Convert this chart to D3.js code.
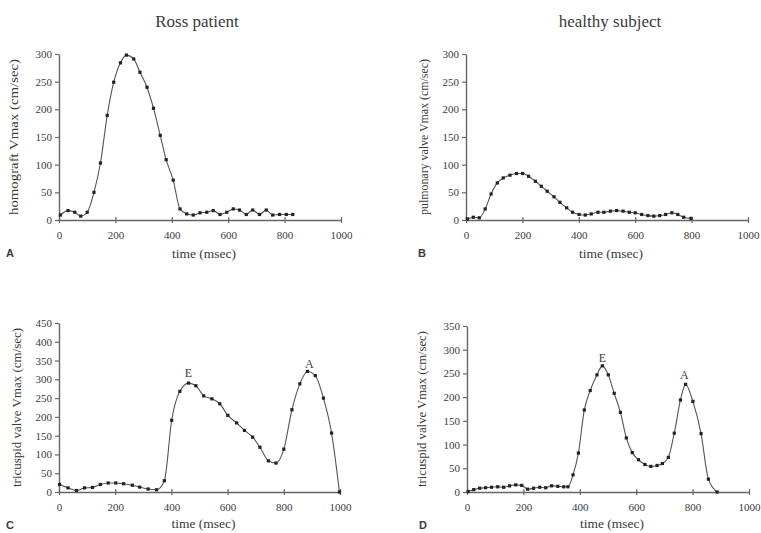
<!DOCTYPE html>
<html>
<head>
<meta charset="utf-8">
<script src="https://cdn.jsdelivr.net/npm/d3@7"></script>
<style>
  body { margin: 0; background: #fff; }
  svg { display: block; }
  text { font-family: "Liberation Serif", "DejaVu Serif", serif; fill: #3a3a3a; }
</style>
</head>
<body>
<div id="chart"></div>
<script>
// Doppler velocity curves: Ross patient vs healthy subject

// panel A - homograft (Ross patient)
const timeA = [5, 32, 56, 77, 100, 124, 147, 171, 194, 218, 239, 265, 287, 312, 335, 359, 380, 405,
  429, 453, 476, 500, 524, 547, 571, 595, 618, 640, 664, 687, 711, 735, 758, 782, 806, 829];
const vmaxA = [9, 17, 14, 7, 14, 50, 103, 189, 249, 284, 298, 291, 267, 240, 202, 153, 109, 72,
  20, 11, 9, 13, 14, 17, 10, 14, 20, 18, 10, 18, 10, 18, 9, 10, 10, 10];

// panel B - pulmonary valve (healthy subject)
const timeB = [5, 26, 47, 68, 89, 111, 132, 156, 179, 201, 222, 246, 267, 288, 312, 333, 357, 378, 401,
  423, 444, 468, 489, 512, 534, 557, 579, 600, 623, 645, 666, 687, 708, 730, 751, 772, 798];
const vmaxB = [2, 5, 4, 20, 47, 67, 76, 81, 84, 84, 79, 70, 61, 52, 42, 32, 22, 14, 10,
  9, 11, 14, 14, 16, 17, 16, 14, 13, 10, 8, 7, 8, 10, 13, 10, 5, 3];

// panel C - tricuspid valve (Ross patient)
const timeC = [2, 32, 62, 91, 119, 147, 175, 202, 230, 261, 287, 317, 347, 375, 401, 430, 461, 487,
  515, 544, 572, 601, 632, 660, 689, 715, 745, 772, 800, 829, 857, 884, 912, 941, 970, 998];
const vmaxC = [20, 11, 4, 11, 12, 20, 24, 24, 22, 18, 13, 8, 6, 30, 191, 268, 290, 283,
  256, 248, 235, 204, 184, 164, 146, 119, 83, 77, 114, 219, 288, 321, 310, 250, 157, 0];

// panel D - tricuspid valve (healthy subject)
const timeD = [4, 24, 45, 66, 87, 109, 130, 151, 173, 194, 215, 236, 258, 279, 300, 322, 343, 358, 376,
  395, 416, 437, 461, 480, 501, 522, 544, 565, 586, 608, 631, 652, 674, 693, 714, 735, 757, 775, 801,
  830, 856, 887];
const vmaxD = [1, 5, 8, 9, 10, 11, 10, 13, 15, 14, 6, 8, 10, 9, 13, 12, 11, 11, 36,
  82, 173, 214, 247, 266, 247, 208, 168, 114, 83, 68, 58, 54, 56, 60, 73, 124, 194, 227, 191,
  123, 27, 0];

// E / A wave labels [label, time, value]
const peaksC = [['E', 461, 317], ['A', 891, 341]];
const peaksD = [['E', 480, 282], ['A', 771, 247]];

const xTicks = [0, 200, 400, 600, 800, 1000];
const yMaxes = [300, 300, 450, 350];
const yTitles = ['homograft Vmax (cm/sec)', 'pulmonary valve Vmax (cm/sec)',
  'tricuspid valve Vmax (cm/sec)', 'tricuspid valve Vmax (cm/sec)'];
const panelLetters = ['A', 'B', 'C', 'D'];
const columnTitles = ['Ross patient', 'healthy subject'];
const xTitle = 'time (msec)';

const W = 761, H = 533;
const svg = d3.select('#chart').append('svg')
  .attr('width', W)
  .attr('height', H);

// pixel boxes of each panel's plot area
const layout = [
  { x0: 59, x1: 341, y0: 220, y1: 54, titleX: 15, xTitleDy: 38 },
  { x0: 466, x1: 748, y0: 220, y1: 54, titleX: 425, xTitleDy: 38 },
  { x0: 59, x1: 340, y0: 492, y1: 323, titleX: 18, xTitleDy: 36 },
  { x0: 467, x1: 749, y0: 492, y1: 326, titleX: 423, xTitleDy: 36 }
];

const panels = [
  { t: timeA, v: vmaxA, peaks: [] },
  { t: timeB, v: vmaxB, peaks: [] },
  { t: timeC, v: vmaxC, peaks: peaksC },
  { t: timeD, v: vmaxD, peaks: peaksD }
];

const axisColor = '#666';

panels.forEach((p, i) => {
  const L = layout[i];
  const x = d3.scaleLinear().domain([0, 1000]).range([L.x0, L.x1]);
  const y = d3.scaleLinear().domain([0, yMaxes[i]]).range([L.y0, L.y1]);
  const g = svg.append('g');

  // x axis
  const gx = g.append('g')
    .attr('transform', `translate(0,${L.y0})`)
    .call(d3.axisBottom(x).tickValues(xTicks).tickFormat(d3.format('d'))
      .tickSize(3).tickPadding(8).tickSizeOuter(0));
  gx.selectAll('.tick line').attr('y1', -3);

  // y axis
  const gy = g.append('g')
    .attr('transform', `translate(${L.x0},0)`)
    .call(d3.axisLeft(y).ticks(yMaxes[i] / 50).tickSize(4).tickPadding(3).tickSizeOuter(0));

  [gx, gy].forEach(a => {
    a.select('.domain').attr('stroke', axisColor).attr('stroke-width', 1.4);
    a.selectAll('.tick line').attr('stroke', axisColor).attr('stroke-width', 1.2);
    a.selectAll('.tick text')
      .style('font-family', '"Liberation Serif", serif')
      .style('font-size', '11px')
      .attr('fill', '#444');
  });

  // curve
  const pts = p.t.map((t, k) => [t, p.v[k]]);
  const line = d3.line()
    .x(d => x(d[0]))
    .y(d => y(d[1]))
    .curve(d3.curveMonotoneX);

  g.append('path')
    .datum(pts)
    .attr('fill', 'none')
    .attr('stroke', '#555')
    .attr('stroke-width', 1.1)
    .attr('d', line);

  g.selectAll('.pt')
    .data(pts)
    .enter()
    .append('rect')
    .attr('class', 'pt')
    .attr('x', d => x(d[0]) - 1.6)
    .attr('y', d => y(d[1]) - 1.6)
    .attr('width', 3.2)
    .attr('height', 3.2)
    .attr('fill', '#222');

  // E / A labels
  g.selectAll('.peak')
    .data(p.peaks)
    .enter()
    .append('text')
    .attr('x', d => x(d[1]))
    .attr('y', d => y(d[2]) + 4)
    .attr('text-anchor', 'middle')
    .style('font-size', '12px')
    .text(d => d[0]);

  // y axis title
  const yc = (L.y0 + L.y1) / 2;
  g.append('text')
    .attr('transform', `translate(${L.titleX},${yc}) rotate(-90)`)
    .attr('text-anchor', 'middle')
    .attr('dominant-baseline', 'middle')
    .attr('textLength', L.y0 - L.y1 - 10)
    .attr('lengthAdjust', 'spacingAndGlyphs')
    .style('font-size', '11.5px')
    .text(yTitles[i]);

  // x axis title
  g.append('text')
    .attr('x', (L.x0 + L.x1) / 2 + 4)
    .attr('y', L.y0 + L.xTitleDy)
    .attr('text-anchor', 'middle')
    .attr('textLength', 64)
    .attr('lengthAdjust', 'spacingAndGlyphs')
    .style('font-size', '11.5px')
    .text(xTitle);

  // panel letter
  g.append('text')
    .attr('x', L.x0 - 53 + (i % 2 ? 5 : 0))
    .attr('y', L.y0 + 37)
    .style('font-family', '"Liberation Sans", sans-serif')
    .style('font-size', '11px')
    .style('font-weight', 'bold')
    .attr('fill', '#444')
    .text(panelLetters[i]);
});

// column titles
[197, 610].forEach((cx, k) => {
  svg.append('text')
    .attr('x', cx)
    .attr('y', 27)
    .attr('text-anchor', 'middle')
    .style('font-size', '17px')
    .text(columnTitles[k]);
});
</script>
</body>
</html>
